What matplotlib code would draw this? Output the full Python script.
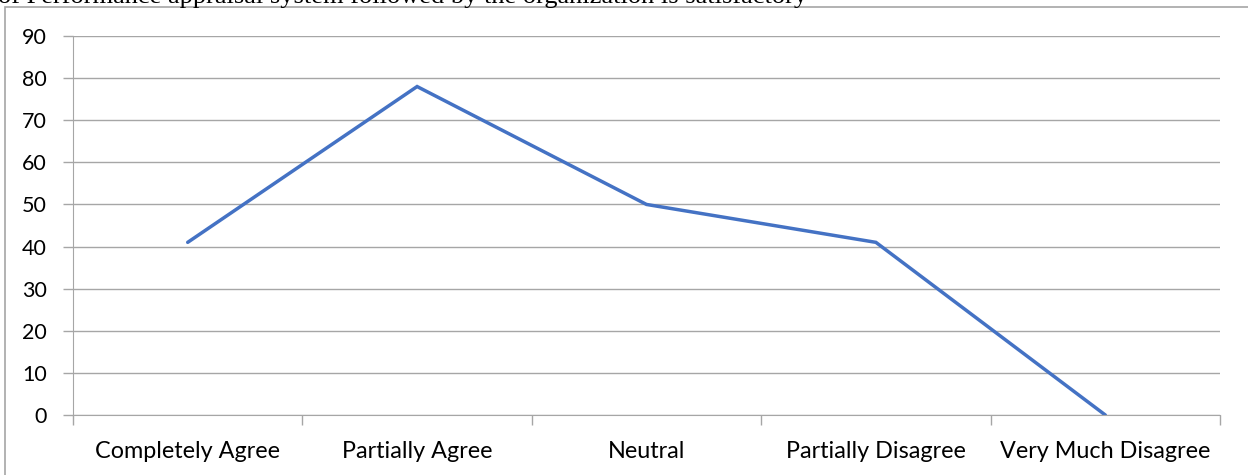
import matplotlib
matplotlib.use("Agg")
import matplotlib.pyplot as plt
from matplotlib.patches import Rectangle

categories = ["Completely Agree", "Partially Agree", "Neutral", "Partially Disagree", "Very Much Disagree"]
values = [41, 78, 50, 41, 0]
yticks = [0, 10, 20, 30, 40, 50, 60, 70, 80, 90]

W, H = 1248, 475
fig = plt.figure(figsize=(W / 100, H / 100), dpi=100)
plt.rcParams['font.family'] = ['Lato', 'DejaVu Sans']

# clipped document text above chart
fig.text(-0.002, 1.0 - 3 / H, "of Performance appraisal system followed by the organization is satisfactory",
         fontsize=19, family='Liberation Serif', va='baseline', ha='left', color='black')

# outer chart border
border = Rectangle((5 / W, -0.1), 1.2, (H - 7) / H + 0.1, transform=fig.transFigure,
                   fill=False, edgecolor='#a6a6a6', linewidth=1.2)
fig.patches.append(border)

ax = fig.add_axes([73 / W, (H - 415) / H, (1220 - 73) / W, (415 - 36) / H])
x = list(range(len(categories)))
ax.plot(x, values, color='#4472C4', linewidth=2.5, solid_capstyle='round', solid_joinstyle='miter')

ax.set_xlim(-0.5, len(categories) - 0.5)
ax.set_ylim(0, 90)
ax.set_yticks(yticks)
ax.set_yticklabels([str(v) for v in yticks], fontsize=15.5)
ax.set_xticks(x)
ax.set_xticklabels(categories, fontsize=16.8)
ax.tick_params(axis='x', length=0, pad=19)
ax.tick_params(axis='y', length=7, color='#a6a6a6', width=1, pad=12)

# category boundary tick marks
ax.set_xticks([i - 0.5 for i in range(len(categories) + 1)], minor=True)
ax.tick_params(axis='x', which='minor', length=7, color='#a6a6a6', width=1)

ax.grid(axis='y', color='#a6a6a6', linewidth=1)
ax.set_axisbelow(True)
for s in ['top', 'right']:
    ax.spines[s].set_visible(False)
ax.spines['left'].set_color('#a6a6a6')
ax.spines['bottom'].set_color('#a6a6a6')

fig.savefig("out.png", dpi=100)
